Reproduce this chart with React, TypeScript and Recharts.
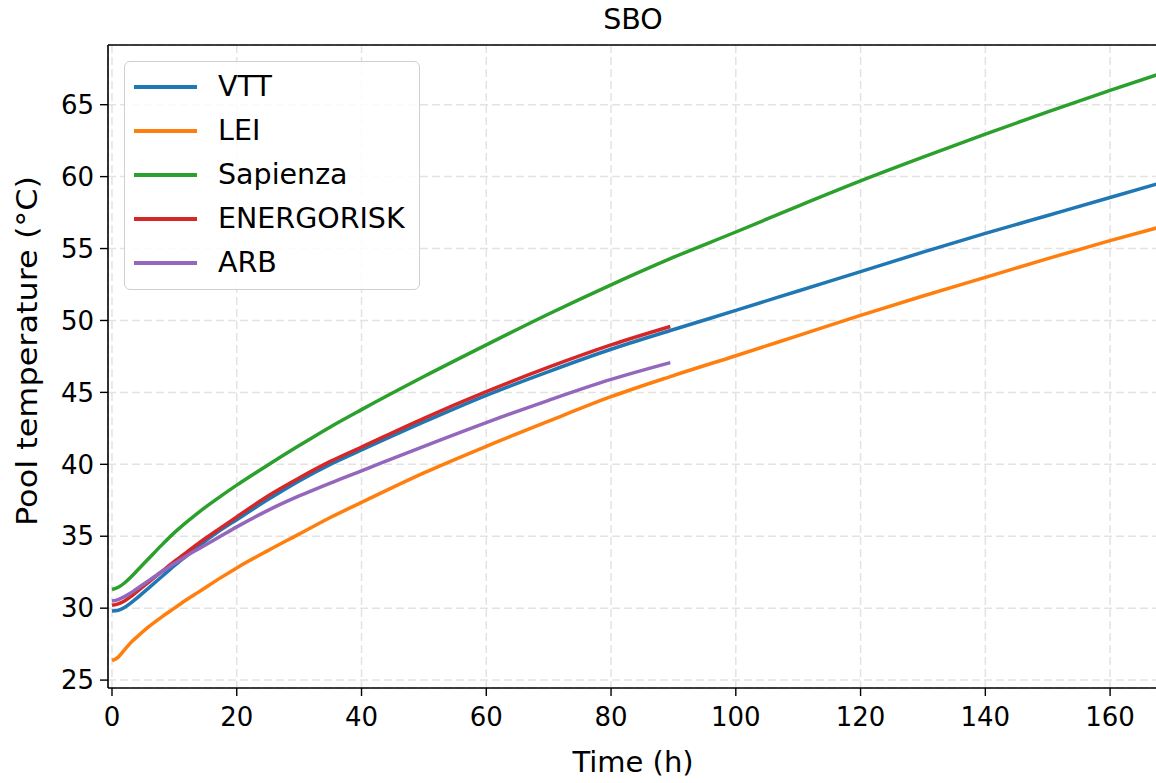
import React from 'react';
import { LineChart, Line, XAxis, YAxis, CartesianGrid, ReferenceLine } from 'recharts';

const TIME_H = [0, 1, 2, 3, 4, 6, 8, 10, 12, 14, 17, 20, 25, 30, 35, 40, 50, 60, 70, 80, 89.5, 100, 110, 120, 130, 140, 150, 160, 168];
const VTT = [29.8, 29.85, 30.05, 30.35, 30.7, 31.45, 32.2, 32.95, 33.65, 34.35, 35.3, 36.15, 37.55, 38.85, 40.0, 41.0, 42.95, 44.8, 46.45, 48.0, 49.3, 50.7, 52.05, 53.4, 54.75, 56.05, 57.3, 58.55, 59.55];
const LEI = [26.35, 26.6, 27.1, 27.6, 28.0, 28.75, 29.4, 30.0, 30.6, 31.15, 32.0, 32.8, 34.0, 35.15, 36.3, 37.35, 39.4, 41.25, 43.0, 44.7, 46.1, 47.55, 48.95, 50.35, 51.7, 53.0, 54.3, 55.55, 56.5];
const SAPIENZA = [31.3, 31.45, 31.75, 32.15, 32.6, 33.5, 34.4, 35.25, 36.0, 36.7, 37.65, 38.55, 39.95, 41.3, 42.6, 43.8, 46.1, 48.3, 50.45, 52.48, 54.3, 56.15, 57.95, 59.7, 61.35, 62.95, 64.5, 66.0, 67.15];
const ENERGORISK = [30.2, 30.3, 30.5, 30.8, 31.15, 31.85, 32.55, 33.25, 33.9, 34.55, 35.45, 36.35, 37.8, 39.05, 40.2, 41.2, 43.2, 45.05, 46.75, 48.3, 49.58];
const ARB = [30.5, 30.6, 30.8, 31.05, 31.35, 31.95, 32.55, 33.1, 33.65, 34.15, 34.9, 35.65, 36.8, 37.8, 38.7, 39.55, 41.25, 42.9, 44.45, 45.9, 47.07];

const X_TICKS = [0, 20, 40, 60, 80, 100, 120, 140, 160];
const Y_TICKS = [25, 30, 35, 40, 45, 50, 55, 60, 65];

const SERIES = [
  { key: 'VTT', color: '#1f77b4' },
  { key: 'LEI', color: '#ff7f0e' },
  { key: 'Sapienza', color: '#2ca02c' },
  { key: 'ENERGORISK', color: '#d62728' },
  { key: 'ARB', color: '#9467bd' },
];

const rows = TIME_H.map((t, i) => ({
  t,
  VTT: VTT[i],
  LEI: LEI[i],
  Sapienza: SAPIENZA[i],
  ENERGORISK: i < ENERGORISK.length ? ENERGORISK[i] : null,
  ARB: i < ARB.length ? ARB[i] : null,
}));

const FONT = '"DejaVu Sans", sans-serif';
const TICK_FS = 26;
const LABEL_FS = 29;
const LEGEND_FS = 28.5;
const LINE_W = 3.5;

const yLabel = () => (
  <text
    transform="translate(27,351) rotate(-90) scale(1.14,1)"
    x={0}
    y={0}
    textAnchor="middle"
    dominantBaseline="central"
    fontSize={28}
    fontFamily={FONT}
    fill="#000"
  >
    Pool temperature (°C)
  </text>
);

const xLabel = () => (
  <text
    x={633}
    y={762}
    textAnchor="middle"
    dominantBaseline="central"
    fontSize={LABEL_FS}
    fontFamily={FONT}
    fill="#000"
  >
    Time (h)
  </text>
);

function LegendBox() {
  return (
    <div
      style={{
        position: 'absolute',
        left: 124,
        top: 61,
        width: 296,
        height: 229,
        boxSizing: 'border-box',
        border: '1.5px solid #d0d0d0',
        borderRadius: 6,
        background: 'rgba(255,255,255,0.85)',
        fontFamily: FONT,
      }}
    >
      {SERIES.map((s, i) => (
        <div
          key={s.key}
          style={{ position: 'absolute', left: 0, top: 3 + i * 44, height: 44, width: '100%' }}
        >
          <div
            style={{ position: 'absolute', left: 9, top: 20, width: 63, height: LINE_W, background: s.color }}
          />
          <div
            style={{
              position: 'absolute',
              left: 93,
              top: 0,
              height: 44,
              lineHeight: '44px',
              fontSize: LEGEND_FS,
              color: '#000',
              whiteSpace: 'nowrap',
            }}
          >
            {s.key}
          </div>
        </div>
      ))}
    </div>
  );
}

export default function App() {
  return (
    <div
      style={{
        position: 'fixed',
        left: 0,
        top: 0,
        width: 1156,
        height: 783,
        overflow: 'hidden',
        background: '#fff',
      }}
    >
      <div
        style={{
          position: 'absolute',
          left: 0,
          width: 1266,
          top: 3,
          textAlign: 'center',
          fontFamily: FONT,
          fontSize: 28.5,
          color: '#000',
          lineHeight: '34px',
        }}
      >
        SBO
      </div>
      <div style={{ position: 'absolute', left: 0, top: 0 }}>
        <LineChart
          width={1162}
          height={783}
          data={rows}
          margin={{ top: 45, right: 2, bottom: 0, left: 0 }}
        >
          <CartesianGrid stroke="#e3e3e3" strokeWidth={1.5} strokeDasharray="8 4" />
          <XAxis
            dataKey="t"
            type="number"
            domain={[-0.64, 168]}
            allowDataOverflow
            ticks={X_TICKS}
            height={95}
            tickSize={8}
            tickMargin={12}
            axisLine={{ stroke: '#000', strokeWidth: 1.6 }}
            tickLine={{ stroke: '#000', strokeWidth: 1.4 }}
            tick={{ fill: '#000', fontSize: TICK_FS, fontFamily: FONT }}
            interval={0}
            label={xLabel}
          />
          <YAxis
            type="number"
            domain={[24.45, 69.15]}
            allowDataOverflow
            ticks={Y_TICKS}
            width={108}
            tickSize={8}
            tickMargin={6}
            axisLine={{ stroke: '#000', strokeWidth: 1.6 }}
            tickLine={{ stroke: '#000', strokeWidth: 1.4 }}
            tick={{ fill: '#000', fontSize: TICK_FS, fontFamily: FONT }}
            interval={0}
            label={yLabel}
          />
          <ReferenceLine y={69.15} stroke="#000" strokeWidth={1.6} ifOverflow="visible" />
          {SERIES.map((s) => (
            <Line
              key={s.key}
              dataKey={s.key}
              name={s.key}
              stroke={s.color}
              strokeWidth={LINE_W}
              dot={false}
              activeDot={false}
              type="monotone"
              isAnimationActive={false}
              connectNulls={false}
            />
          ))}
        </LineChart>
      </div>
      <LegendBox />
    </div>
  );
}
